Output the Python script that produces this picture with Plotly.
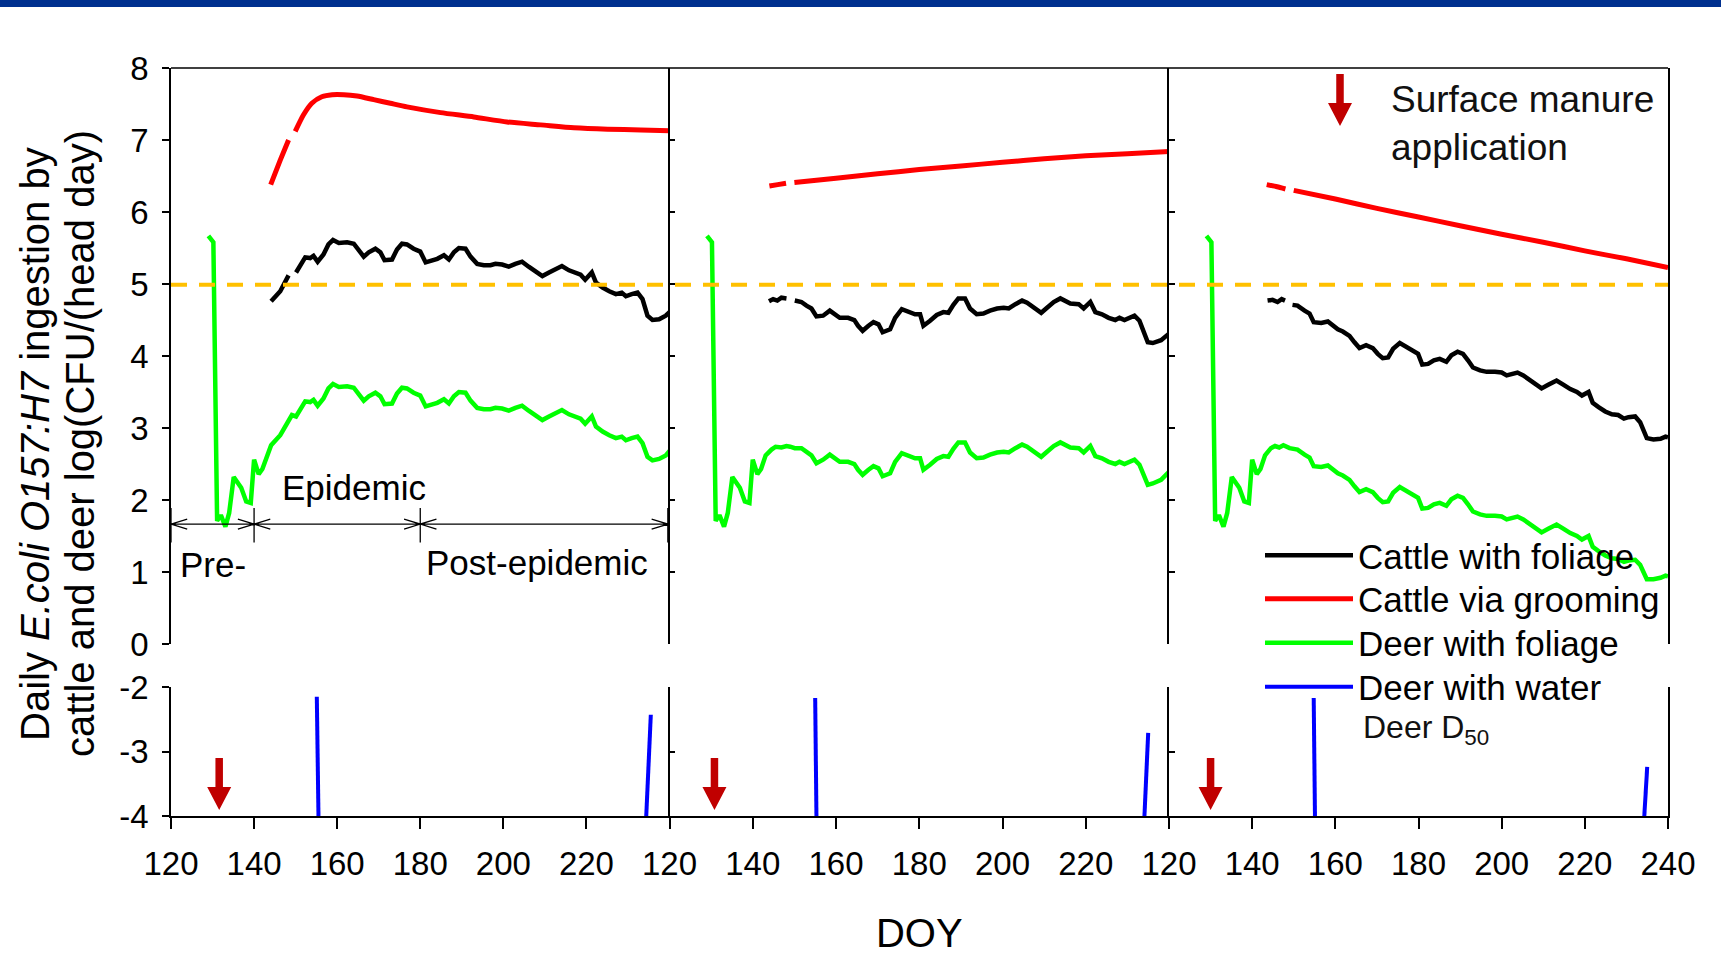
import plotly.graph_objects as go

# ---------------- data ----------------
# deer ingestion with foliage before the cattle arrive (identical in all panels)
deer_pre_doy = [129.0, 130.2, 131.1, 132.0, 133.1, 134.0, 135.1, 136.9, 138.1, 139.2, 140.0, 141.1, 142.0, 143.1]
deer_pre = [5.67, 5.58, 1.71, 1.79, 1.63, 1.82, 2.32, 2.17, 1.98, 1.96, 2.56, 2.36, 2.43, 2.62]

# Panel 1
cattle_fol_doy_p1 = [144.1, 146.3, 148.3, 149.0, 150.1, 151.5, 152.3, 153.5, 154.3, 155.3, 156.7, 157.9, 159.0, 160.4,
                     162.4, 164.0, 165.2, 166.4, 167.6, 169.2, 170.4, 171.4, 173.2, 174.4, 175.6, 176.8, 178.4, 180.0,
                     181.3, 182.9, 184.1, 185.7, 186.9, 188.1, 189.3, 190.9, 192.1, 193.7, 195.3, 196.9, 198.1, 199.7,
                     201.3, 202.9, 204.5, 206.1, 207.8, 209.4, 211.0, 212.6, 214.1, 215.8, 217.4, 218.6, 219.7, 221.3,
                     222.3, 223.9, 225.5, 227.1, 228.5, 229.5, 230.9, 232.3, 233.5, 234.7, 235.9, 237.5, 239.1, 240.0]
cattle_fol_p1 = [4.76, 4.90, 5.12, None, 5.16, 5.30, 5.37, 5.36, 5.39, 5.31, 5.41, 5.55, 5.61, 5.57,
                 5.58, 5.56, 5.48, 5.38, 5.44, 5.49, 5.44, 5.33, 5.34, 5.48, 5.56, 5.55, 5.49, 5.45,
                 5.30, 5.32, 5.35, 5.40, 5.34, 5.44, 5.50, 5.49, 5.38, 5.28, 5.26, 5.26, 5.28, 5.27,
                 5.24, 5.28, 5.31, 5.24, 5.18, 5.11, 5.16, 5.21, 5.25, 5.19, 5.16, 5.13, 5.06, 5.16,
                 5.02, 4.95, 4.90, 4.86, 4.88, 4.83, 4.86, 4.88, 4.79, 4.56, 4.50, 4.51, 4.56, 4.61]
deer_fol_doy_p1 = deer_pre_doy + [144.1, 146.3, 148.3, 149.1, 150.1, 151.5, 152.3, 153.5, 154.3, 155.3, 156.7, 157.9,
                                  159.0, 160.4, 162.4, 164.0, 165.2, 166.4, 167.6, 169.2, 170.4, 171.4, 173.2, 174.4,
                                  175.6, 176.8, 178.4, 180.0, 181.3, 182.9, 184.1, 185.7, 186.9, 188.1, 189.3, 190.9,
                                  192.1, 193.7, 195.3, 196.9, 198.1, 199.7, 201.3, 202.9, 204.5, 206.1, 207.8, 209.4,
                                  211.0, 212.6, 214.1, 215.8, 217.4, 218.6, 219.7, 221.3, 222.3, 223.9, 225.5, 227.1,
                                  228.5, 229.5, 230.9, 232.3, 233.5, 234.7, 235.9, 237.5, 239.1, 240.0]
deer_fol_p1 = deer_pre + [2.76, 2.90, 3.12, 3.18, 3.16, 3.30, 3.37, 3.36, 3.39, 3.31, 3.41, 3.55,
                          3.61, 3.57, 3.58, 3.56, 3.48, 3.38, 3.44, 3.49, 3.44, 3.33, 3.34, 3.48,
                          3.56, 3.55, 3.49, 3.45, 3.30, 3.32, 3.35, 3.40, 3.34, 3.44, 3.50, 3.49,
                          3.38, 3.28, 3.26, 3.26, 3.28, 3.27, 3.24, 3.28, 3.31, 3.24, 3.18, 3.11,
                          3.16, 3.21, 3.25, 3.19, 3.16, 3.13, 3.06, 3.16, 3.02, 2.95, 2.90, 2.86,
                          2.88, 2.83, 2.86, 2.88, 2.79, 2.60, 2.55, 2.57, 2.62, 2.68]
groom_doy_p1 = [144.0, 146.3, 148.3, 149.0, 149.9, 151.9, 153.9, 156.3, 158.8, 161.6, 164.8, 168.8, 172.8, 176.8,
                184.9, 192.9, 200.9, 209.0, 217.0, 225.1, 233.1, 240.0]
groom_p1 = [6.38, 6.72, 7.00, None, 7.12, 7.35, 7.51, 7.60, 7.63, 7.63, 7.61, 7.56, 7.51, 7.46,
            7.38, 7.32, 7.25, 7.21, 7.17, 7.15, 7.14, 7.13]
water_doy_p1 = [155.1, 155.5, None, 234.4, 235.5]
water_p1 = [-2.15, -4.0, None, -4.0, -2.43]

# Panel 2
cattle_fol_doy_p2 = [143.9, 144.9, 145.9, 146.9, 148.1, 149.0, 150.1, 151.7, 152.9, 154.1, 155.3, 156.9, 158.5, 159.7,
                     160.9, 162.9, 164.4, 165.3, 166.4, 167.8, 169.0, 170.2, 171.2, 173.0, 174.2, 175.8, 177.4, 179.0,
                     180.2, 181.0, 182.6, 184.2, 185.8, 187.0, 188.2, 189.4, 191.0, 192.2, 193.8, 195.4, 197.0, 198.7,
                     200.3, 201.5, 203.1, 204.7, 205.9, 207.9, 209.3, 210.7, 212.3, 213.9, 215.1, 216.3, 218.3, 219.5,
                     221.1, 222.3, 223.9, 225.5, 227.1, 228.1, 229.3, 230.5, 231.7, 232.9, 234.1, 234.9, 236.1, 238.1,
                     240.0]
cattle_fol_p2 = [4.76, 4.79, 4.77, 4.81, 4.80, None, 4.77, 4.75, 4.70, 4.66, 4.55, 4.56, 4.63, 4.57,
                 4.53, 4.53, 4.50, 4.42, 4.35, 4.42, 4.47, 4.44, 4.33, 4.37, 4.53, 4.65, 4.61, 4.58,
                 4.58, 4.42, 4.49, 4.57, 4.61, 4.60, 4.71, 4.80, 4.80, 4.66, 4.58, 4.59, 4.63, 4.66,
                 4.67, 4.66, 4.72, 4.77, 4.74, 4.66, 4.60, 4.67, 4.75, 4.80, 4.77, 4.73, 4.72, 4.66,
                 4.75, 4.61, 4.58, 4.53, 4.50, 4.53, 4.50, 4.53, 4.56, 4.49, 4.33, 4.19, 4.18, 4.22,
                 4.31]
deer_fol_doy_p2 = deer_pre_doy + [144.5, 145.5, 146.9, 148.1, 149.0, 150.1, 151.7, 152.9, 154.1, 155.3, 156.9, 158.5,
                                  159.7, 160.9, 162.9, 164.4, 165.3, 166.4, 167.8, 169.0, 170.2, 171.2, 173.0, 174.2,
                                  175.8, 177.4, 179.0, 180.2, 181.0, 182.6, 184.2, 185.8, 187.0, 188.2, 189.4, 191.0,
                                  192.2, 193.8, 195.4, 197.0, 198.7, 200.3, 201.5, 203.1, 204.7, 205.9, 207.9, 209.3,
                                  210.7, 212.3, 213.9, 215.1, 216.3, 218.3, 219.5, 221.1, 222.3, 223.9, 225.5, 227.1,
                                  228.1, 229.3, 230.5, 231.7, 232.9, 234.1, 234.9, 236.1, 238.1, 240.0]
deer_fol_p2 = deer_pre + [2.70, 2.74, 2.73, 2.75, 2.74, 2.72, 2.72, 2.67, 2.62, 2.51, 2.56, 2.63,
                          2.57, 2.53, 2.53, 2.50, 2.42, 2.35, 2.42, 2.47, 2.44, 2.33, 2.37, 2.53,
                          2.65, 2.61, 2.58, 2.58, 2.42, 2.49, 2.57, 2.61, 2.60, 2.71, 2.80, 2.80,
                          2.66, 2.58, 2.59, 2.63, 2.66, 2.67, 2.66, 2.72, 2.77, 2.74, 2.66, 2.60,
                          2.67, 2.75, 2.80, 2.77, 2.73, 2.72, 2.66, 2.75, 2.61, 2.58, 2.53, 2.50,
                          2.53, 2.50, 2.53, 2.56, 2.49, 2.33, 2.21, 2.23, 2.28, 2.39]
groom_doy_p2 = [144.0, 146.0, 148.0, 149.0, 150.0, 160.0, 170.0, 180.0, 190.0, 200.0, 210.0, 220.0, 230.0, 240.0]
groom_p2 = [6.36, 6.38, 6.40, None, 6.41, 6.47, 6.53, 6.59, 6.64, 6.69, 6.74, 6.78, 6.81, 6.84]
water_doy_p2 = [155.0, 155.3, None, 234.1, 235.0]
water_p2 = [-2.17, -4.0, None, -4.0, -2.71]

# Panel 3
cattle_fol_doy_p3 = [143.7, 144.9, 146.1, 147.1, 147.9, 149.0, 149.7, 150.9, 152.6, 153.8, 154.8, 156.6, 158.2, 159.4,
                     160.6, 161.8, 163.4, 164.6, 165.8, 167.4, 169.0, 170.2, 171.4, 172.7, 173.9, 175.5, 176.7, 178.3,
                     179.9, 180.9, 182.3, 183.7, 185.1, 186.7, 187.9, 189.4, 190.7, 191.9, 193.1, 194.8, 196.4, 198.4,
                     200.0, 201.2, 202.4, 203.8, 205.2, 206.8, 208.4, 209.6, 211.2, 213.2, 214.9, 216.5, 218.1, 219.3,
                     220.9, 221.9, 223.3, 224.9, 226.5, 228.0, 229.4, 230.5, 232.1, 233.3, 234.9, 236.5, 238.2, 239.4,
                     240.0]
cattle_fol_p3 = [4.77, 4.78, 4.75, 4.79, 4.77, None, 4.71, 4.70, 4.63, 4.59, 4.47, 4.46, 4.48, 4.42,
                 4.37, 4.34, 4.28, 4.19, 4.11, 4.15, 4.11, 4.03, 3.97, 3.98, 4.10, 4.18, 4.14, 4.07,
                 4.03, 3.88, 3.89, 3.94, 3.96, 3.92, 4.01, 4.06, 4.03, 3.94, 3.84, 3.80, 3.78, 3.78,
                 3.77, 3.73, 3.75, 3.77, 3.73, 3.66, 3.60, 3.55, 3.60, 3.66, 3.60, 3.54, 3.50, 3.45,
                 3.50, 3.35, 3.29, 3.23, 3.19, 3.18, 3.13, 3.15, 3.16, 3.08, 2.86, 2.84, 2.85, 2.88,
                 2.87]
deer_fol_doy_p3 = deer_pre_doy + [144.5, 145.5, 146.5, 147.5, 149.0, 150.9, 152.6, 153.8, 154.8, 156.6, 158.2, 159.4,
                                  160.6, 161.8, 163.4, 164.6, 165.8, 167.4, 169.0, 170.2, 171.4, 172.7, 173.9, 175.5,
                                  176.7, 178.3, 179.9, 180.9, 182.3, 183.7, 185.1, 186.7, 187.9, 189.4, 190.7, 191.9,
                                  193.1, 194.8, 196.4, 198.4, 200.0, 201.2, 202.4, 203.8, 205.2, 206.8, 208.4, 209.6,
                                  211.2, 213.2, 214.9, 216.5, 218.1, 219.3, 220.9, 221.9, 223.3, 224.9, 226.5, 228.0,
                                  229.4, 230.5, 232.1, 233.3, 234.9, 236.5, 238.2, 239.4, 240.0]
deer_fol_p3 = deer_pre + [2.72, 2.75, 2.73, 2.76, 2.72, 2.70, 2.63, 2.59, 2.47, 2.46, 2.48, 2.42,
                          2.37, 2.34, 2.28, 2.19, 2.11, 2.15, 2.11, 2.03, 1.97, 1.98, 2.10, 2.18,
                          2.14, 2.07, 2.03, 1.88, 1.89, 1.94, 1.96, 1.92, 2.01, 2.06, 2.03, 1.94,
                          1.84, 1.80, 1.78, 1.78, 1.77, 1.73, 1.75, 1.77, 1.73, 1.66, 1.60, 1.55,
                          1.60, 1.66, 1.60, 1.54, 1.50, 1.45, 1.50, 1.35, 1.29, 1.23, 1.19, 1.18,
                          1.14, 1.16, 1.17, 1.10, 0.90, 0.90, 0.92, 0.95, 0.94]
groom_doy_p3 = [143.5, 146.0, 148.0, 149.0, 150.0, 160.0, 170.0, 180.0, 190.0, 200.0, 210.0, 220.0, 230.0, 240.0]
groom_p3 = [6.38, 6.35, 6.32, None, 6.30, 6.18, 6.05, 5.93, 5.81, 5.69, 5.58, 5.46, 5.35, 5.23]
water_doy_p3 = [154.8, 155.1, None, 234.3, 235.0]
water_p3 = [-2.17, -4.0, None, -4.0, -3.24]

manure_doy = [131.6, 130.8, 130.0]        # surface manure application day per panel
deer_d50 = 4.99                            # deer D50, log(CFU)
period_bounds = [120, 140, 180, 239.6]     # pre- / epidemic / post-epidemic
period_labels = ["Pre-", "Epidemic", "Post-epidemic"]
top_ticks = [0, 1, 2, 3, 4, 5, 6, 7, 8]
bottom_ticks = [-4, -3, -2]
bottom_tick_text = ["-4", "-3", "-2"]
doy_ticks = [120, 140, 160, 180, 200, 220, 240]

# ---------------- layout geometry (pixels) ----------------
W, H = 1721, 955
PX = [171, 669.5, 1169, 1668]
TOP_PX = (68, 644)
BOT_PX = (687, 816)
LEGEND_ROWS_PX = [558.5, 602, 646, 690]
FONT = "Liberation Sans, Arial, Helvetica, sans-serif"
ARROW_RED = "#C00000"
# arrow glyph size in px: shaft width, head width, head length, total length
AR_SHAFT, AR_HEAD_W, AR_HEAD_L, AR_LEN = 7.5, 24, 23, 52


def fx(p):
    return p / W


def fy(p):
    return 1 - p / H


def arrow_path(xc, tip, sx, sy):
    """Downward arrow with tip at (xc, tip); sx/sy convert px to the ref units (sy>0 = up)."""
    hw, hh = AR_SHAFT / 2 * sx, AR_HEAD_W / 2 * sx
    hb = tip + AR_HEAD_L * sy
    top = tip + AR_LEN * sy
    pts = [(xc - hw, top), (xc + hw, top), (xc + hw, hb), (xc + hh, hb), (xc, tip),
           (xc - hh, hb), (xc - hw, hb)]
    return "M" + " L".join(f"{a},{b}" for a, b in pts) + " Z"


panels = [
    dict(cf_x=cattle_fol_doy_p1, cf=cattle_fol_p1, gr_x=groom_doy_p1, gr=groom_p1,
         df_x=deer_fol_doy_p1, df=deer_fol_p1, dw_x=water_doy_p1, dw=water_p1),
    dict(cf_x=cattle_fol_doy_p2, cf=cattle_fol_p2, gr_x=groom_doy_p2, gr=groom_p2,
         df_x=deer_fol_doy_p2, df=deer_fol_p2, dw_x=water_doy_p2, dw=water_p2),
    dict(cf_x=cattle_fol_doy_p3, cf=cattle_fol_p3, gr_x=groom_doy_p3, gr=groom_p3,
         df_x=deer_fol_doy_p3, df=deer_fol_p3, dw_x=water_doy_p3, dw=water_p3),
]
XN = ["x", "x2", "x3"]
YT = ["y", "y3", "y5"]
YB = ["y2", "y4", "y6"]
LEG = ["legend", "legend2", "legend3", "legend4"]

fig = go.Figure()
for i, p in enumerate(panels):
    show = i == 0
    fig.add_trace(go.Scatter(x=p["cf_x"], y=p["cf"], xaxis=XN[i], yaxis=YT[i], mode="lines",
                             line=dict(color="#000000", width=4.5), name="Cattle with foliage",
                             legend=LEG[0], legendgroup="cf", showlegend=show, connectgaps=False,
                             hoverinfo="skip"))
    fig.add_trace(go.Scatter(x=p["gr_x"], y=p["gr"], xaxis=XN[i], yaxis=YT[i], mode="lines",
                             line=dict(color="#FF0000", width=5, shape="spline", smoothing=0.6),
                             name="Cattle via grooming", legend=LEG[1], legendgroup="gr", showlegend=show,
                             connectgaps=False, hoverinfo="skip"))
    fig.add_trace(go.Scatter(x=p["df_x"], y=p["df"], xaxis=XN[i], yaxis=YT[i], mode="lines",
                             line=dict(color="#00FF00", width=4.5), name="Deer with foliage",
                             legend=LEG[2], legendgroup="df", showlegend=show, connectgaps=False,
                             hoverinfo="skip"))
    fig.add_trace(go.Scatter(x=p["dw_x"], y=p["dw"], xaxis=XN[i], yaxis=YB[i], mode="lines",
                             line=dict(color="#0000FF", width=4), name="Deer with water",
                             legend=LEG[3], legendgroup="dw", showlegend=show, connectgaps=False,
                             hoverinfo="skip", cliponaxis=True))

tickfont = dict(size=33, color="black", family=FONT)
base_x = dict(range=[120, 240], showgrid=False, zeroline=False, showline=True, linecolor="black",
              linewidth=1.5, ticks="outside", ticklen=11, tickwidth=1.5, tickcolor="black",
              tickfont=tickfont, fixedrange=True, automargin=False, ticklabelstandoff=7)
base_y = dict(showgrid=False, zeroline=False, showline=True, linecolor="black", linewidth=1.5,
              tickwidth=1.5, tickcolor="black", tickfont=tickfont, fixedrange=True, automargin=False)

layout = dict(
    template="none",
    width=W, height=H, margin=dict(l=0, r=0, t=0, b=0, pad=0, autoexpand=False),
    paper_bgcolor="white", plot_bgcolor="rgba(0,0,0,0)",
    font=dict(family=FONT, color="black"),
    showlegend=True,
)
for k, row in zip(LEG, LEGEND_ROWS_PX):
    layout[k] = dict(x=fx(1260), y=fy(row - 3), xanchor="left", yanchor="middle",
                     bgcolor="rgba(0,0,0,0)", font=dict(size=35, family=FONT, color="black"),
                     itemwidth=88, tracegroupgap=0, borderwidth=0)

for i in range(3):
    xk = "xaxis" if i == 0 else f"xaxis{i + 1}"
    tv = doy_ticks if i == 2 else doy_ticks[:-1]
    layout[xk] = dict(base_x, domain=[fx(PX[i]), fx(PX[i + 1])], anchor=YB[i], tickvals=tv)
    ytk = "yaxis" if i == 0 else f"yaxis{2 * i + 1}"
    ybk = f"yaxis{2 * i + 2}"
    ytop = dict(base_y, domain=[fy(TOP_PX[1]), fy(TOP_PX[0])], anchor=XN[i], range=[0, 8],
                tickvals=top_ticks)
    ybot = dict(base_y, domain=[fy(BOT_PX[1]), fy(BOT_PX[0])], anchor=XN[i], range=[-4, -2],
                tickvals=bottom_ticks, ticktext=bottom_tick_text)
    if i == 0:
        for a in (ytop, ybot):
            a.update(ticks="outside", ticklen=7, ticklabelstandoff=7)
    else:
        for a in (ytop, ybot):
            a.update(ticks="inside", ticklen=6, showticklabels=False, mirror=(i == 2))
    layout[ytk] = ytop
    layout[ybk] = ybot

layout["xaxis2"]["title"] = dict(text="DOY", font=dict(size=40, family=FONT, color="black"), standoff=38)

shapes = [
    # top blue band
    dict(type="rect", xref="paper", yref="paper", x0=0, x1=1, y0=fy(7), y1=1,
         fillcolor="#00308F", line=dict(width=0), layer="above"),
    # top frame line
    dict(type="line", xref="paper", yref="paper", x0=fx(PX[0]), x1=fx(PX[3]), y0=fy(TOP_PX[0]),
         y1=fy(TOP_PX[0]), line=dict(color="black", width=1.5)),
    # deer D50 threshold
    dict(type="line", xref="paper", yref="y", x0=fx(PX[0]), x1=fx(PX[3]), y0=deer_d50, y1=deer_d50,
         line=dict(color="#FFC000", width=4, dash="16px,12px"), layer="above"),
]
# period arrows in panel 1
pa_y, bar_lo, bar_hi, head_l, head_h = 1.665, 1.41, 1.89, 3.9, 0.07
path = f"M{period_bounds[0]},{pa_y} L{period_bounds[-1]},{pa_y}"
for b in period_bounds:
    path += f" M{b},{bar_lo} L{b},{bar_hi}"
for a, b in zip(period_bounds[:-1], period_bounds[1:]):
    path += f" M{a + head_l},{pa_y + head_h} L{a},{pa_y} L{a + head_l},{pa_y - head_h}"
    path += f" M{b - head_l},{pa_y + head_h} L{b},{pa_y} L{b - head_l},{pa_y - head_h}"
shapes.append(dict(type="path", xref="x", yref="y", path=path, line=dict(color="black", width=1.3)))

# manure-application arrows in the lower panels (tip just above the -4 axis)
sy_bot = 2.0 / (BOT_PX[1] - BOT_PX[0])          # y units per px
for i, d in enumerate(manure_doy):
    sx = 120.0 / (PX[i + 1] - PX[i])             # DOY per px
    shapes.append(dict(type="path", xref=XN[i], yref=YB[i], path=arrow_path(d, -3.907, sx, sy_bot),
                       fillcolor=ARROW_RED, line=dict(width=0)))
# key arrow next to "Surface manure application"
shapes.append(dict(type="path", xref="paper", yref="paper",
                   path=arrow_path(fx(1340), fy(126), 1.0 / W, 1.0 / H),
                   fillcolor=ARROW_RED, line=dict(width=0)))
layout["shapes"] = shapes

ann = []
period_text_pos = [(121.6, 1.10), (146.3, 2.17), (181.0, 1.13)]
for lab, (tx, ty) in zip(period_labels, period_text_pos):
    ann.append(dict(xref="x", yref="y", x=tx, y=ty, text=lab, showarrow=False, xanchor="left",
                    yanchor="middle", font=dict(size=35, family=FONT, color="black")))
ann.append(dict(xref="paper", yref="paper", x=fx(1389), y=fy(123), text="Surface manure<br>application",
                showarrow=False, xanchor="left", yanchor="middle", align="left",
                font=dict(size=37, family=FONT, color="#111111")))
ann.append(dict(xref="paper", yref="paper", x=fx(1361), y=fy(729), text="Deer D<sub>50</sub>",
                showarrow=False, xanchor="left", yanchor="middle",
                font=dict(size=32, family=FONT, color="#111111")))
ann.append(dict(xref="paper", yref="paper", x=fx(35), y=fy(444),
                text="Daily <i>E.coli O157:H7</i> ingestion by", textangle=-90, showarrow=False,
                xanchor="center", yanchor="middle", font=dict(size=40, family=FONT, color="black")))
ann.append(dict(xref="paper", yref="paper", x=fx(80), y=fy(444),
                text="cattle and deer log(CFU/(head day)", textangle=-90, showarrow=False,
                xanchor="center", yanchor="middle", font=dict(size=40, family=FONT, color="black")))
layout["annotations"] = ann

fig.update_layout(**layout)
fig.write_html("out.html", config={"displayModeBar": False})
